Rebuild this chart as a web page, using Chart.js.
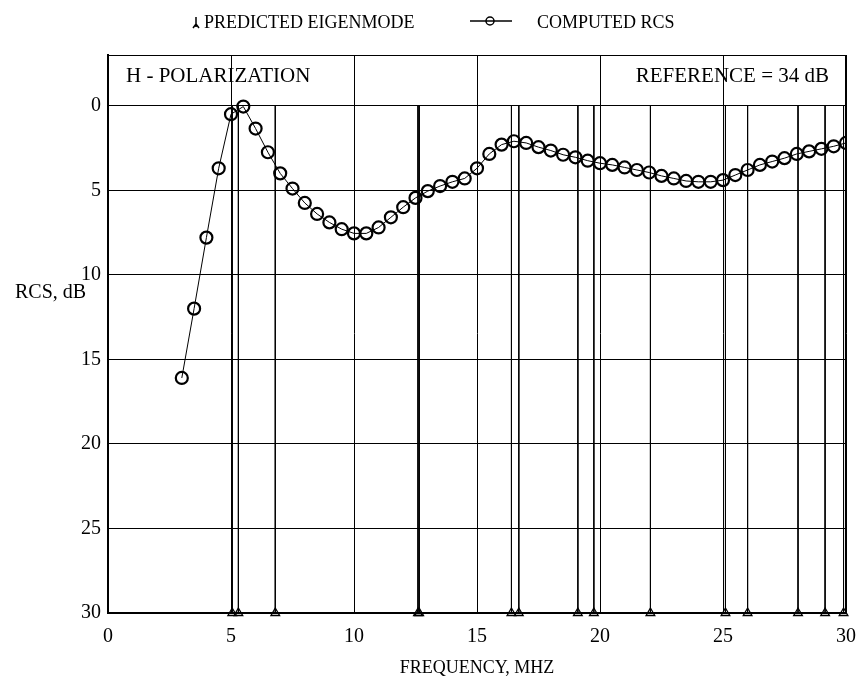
<!DOCTYPE html>
<html>
<head>
<meta charset="utf-8">
<script src="https://cdn.jsdelivr.net/npm/chart.js@4.4.0/dist/chart.umd.min.js"></script>
<style>
    html, body { margin: 0; padding: 0; background: #fff; }
    #wrap { width: 863px; height: 681px; position: relative; }
</style>
</head>
<body>
<div id="wrap"><canvas id="rcsChart"></canvas></div>
<script>
// Computed RCS (dB below reference)
const frequencies = [3.0, 3.5, 4.0, 4.5, 5.0, 5.5, 6.0, 6.5, 7.0, 7.5,
    8.0, 8.5, 9.0, 9.5, 10.0, 10.5, 11.0, 11.5, 12.0, 12.5,
    13.0, 13.5, 14.0, 14.5, 15.0, 15.5, 16.0, 16.5, 17.0, 17.5,
    18.0, 18.5, 19.0, 19.5, 20.0, 20.5, 21.0, 21.5, 22.0, 22.5,
    23.0, 23.5, 24.0, 24.5, 25.0, 25.5, 26.0, 26.5, 27.0, 27.5,
    28.0, 28.5, 29.0, 29.5, 30.0];
const rcsValues = [16.1, 12.0, 7.8, 3.7, 0.5, 0.05, 1.35, 2.75, 4.0, 4.9,
    5.75, 6.4, 6.9, 7.3, 7.55, 7.55, 7.2, 6.6, 6.0, 5.45,
    5.05, 4.75, 4.5, 4.3, 3.7, 2.85, 2.3, 2.1, 2.2, 2.45,
    2.65, 2.9, 3.05, 3.25, 3.4, 3.5, 3.65, 3.8, 3.95, 4.15,
    4.3, 4.45, 4.5, 4.5, 4.4, 4.1, 3.8, 3.5, 3.3, 3.1,
    2.85, 2.7, 2.55, 2.4, 2.2];

// Predicted eigenmode frequencies (MHz)
const eigenmodes = [5.05, 5.3, 6.8, 12.6, 12.65, 16.4, 16.7, 19.1, 19.75,
    22.05, 25.1, 26.0, 28.05, 29.15, 29.9];

const xTicks = [0, 5, 10, 15, 20, 25, 30];
const yTicks = [0, 5, 10, 15, 20, 25, 30];

const serif = "'Liberation Serif', 'Times New Roman', serif";
Chart.defaults.font.family = serif;
Chart.defaults.color = '#000';

// vertical eigenmode lines: 0 dB down to the axis, broken between modes
const eigenData = [];
eigenmodes.forEach(f => {
    eigenData.push({ x: f, y: 0 });
    eigenData.push({ x: f, y: 30 });
    eigenData.push({ x: f, y: null });
});

const rcsData = frequencies.map((f, i) => ({ x: f, y: rcsValues[i] }));

// frame, header panel text, legend and y title
const decorations = {
    id: 'decorations',
    afterDraw(chart) {
        const ctx = chart.ctx;
        const a = chart.chartArea;
        ctx.save();
        ctx.strokeStyle = '#000';
        ctx.lineWidth = 1;
        ctx.strokeRect(a.left + 0.5, a.top + 0.5, a.right - a.left - 1, a.bottom - a.top);

        ctx.fillStyle = '#000';
        ctx.textBaseline = 'alphabetic';
        ctx.font = '21px ' + serif;
        ctx.textAlign = 'left';
        ctx.fillText('H - POLARIZATION', 126, 82);
        ctx.textAlign = 'right';
        ctx.fillText('REFERENCE = 34 dB', 829, 82);

        ctx.textAlign = 'left';
        ctx.font = '20px ' + serif;
        ctx.fillText('RCS, dB', 15, 298);

        // legend
        ctx.font = '18px ' + serif;
        ctx.fillText('PREDICTED EIGENMODE', 204, 28);
        ctx.fillText('COMPUTED RCS', 537, 28);

        ctx.lineWidth = 1.5;
        ctx.beginPath();
        ctx.moveTo(196, 17);
        ctx.lineTo(196, 27);
        ctx.moveTo(193, 28);
        ctx.lineTo(196, 24);
        ctx.lineTo(199, 28);
        ctx.stroke();

        ctx.beginPath();
        ctx.moveTo(470, 21);
        ctx.lineTo(512, 21);
        ctx.stroke();
        ctx.beginPath();
        ctx.arc(490, 21, 4, 0, Math.PI * 2);
        ctx.stroke();
        ctx.restore();
    }
};

new Chart(document.getElementById('rcsChart'), {
    type: 'scatter',
    data: {
        datasets: [{
            label: 'COMPUTED RCS',
            data: rcsData,
            showLine: true,
            borderColor: '#000',
            borderWidth: 1,
            tension: 0,
            pointStyle: 'circle',
            pointRadius: 6,
            pointBorderWidth: 2.2,
            pointBorderColor: '#000',
            pointBackgroundColor: 'rgba(0,0,0,0)',
            clip: 0
        }, {
            label: 'PREDICTED EIGENMODE',
            data: eigenData,
            showLine: true,
            spanGaps: false,
            borderColor: '#000',
            borderWidth: 1,
            pointStyle: 'triangle',
            pointRadius: c => (c.raw && c.raw.y === 30 ? 5 : 0),
            pointBorderWidth: 1.3,
            pointBorderColor: '#000',
            pointBackgroundColor: 'rgba(0,0,0,0)',
            clip: false
        }]
    },
    options: {
        responsive: true,
        maintainAspectRatio: false,
        animation: false,
        layout: { padding: { top: 55, right: 17, left: 0, bottom: 0 } },
        plugins: {
            legend: { display: false },
            tooltip: { enabled: false }
        },
        scales: {
            x: {
                type: 'linear',
                min: 0,
                max: 30,
                afterBuildTicks: s => { s.ticks = xTicks.map(v => ({ value: v })); },
                afterFit: s => { s.height = 68; s.paddingRight = 0; s.paddingLeft = 0; },
                ticks: { font: { size: 20 }, padding: 12, maxRotation: 0 },
                grid: { color: '#000', lineWidth: 1, drawTicks: false },
                border: { color: '#000', width: 2 },
                title: {
                    display: true,
                    text: 'FREQUENCY, MHZ',
                    font: { size: 18 },
                    padding: { top: 0, bottom: 2 }
                }
            },
            y: {
                type: 'linear',
                reverse: true,
                min: -3,
                max: 30,
                afterBuildTicks: s => { s.ticks = yTicks.map(v => ({ value: v })); },
                afterFit: s => { s.width = 108; },
                ticks: { font: { size: 20 }, padding: 7 },
                grid: { color: '#000', lineWidth: 1, drawTicks: false },
                border: { color: '#000', width: 2 }
            }
        }
    },
    plugins: [decorations]
});
</script>
</body>
</html>
